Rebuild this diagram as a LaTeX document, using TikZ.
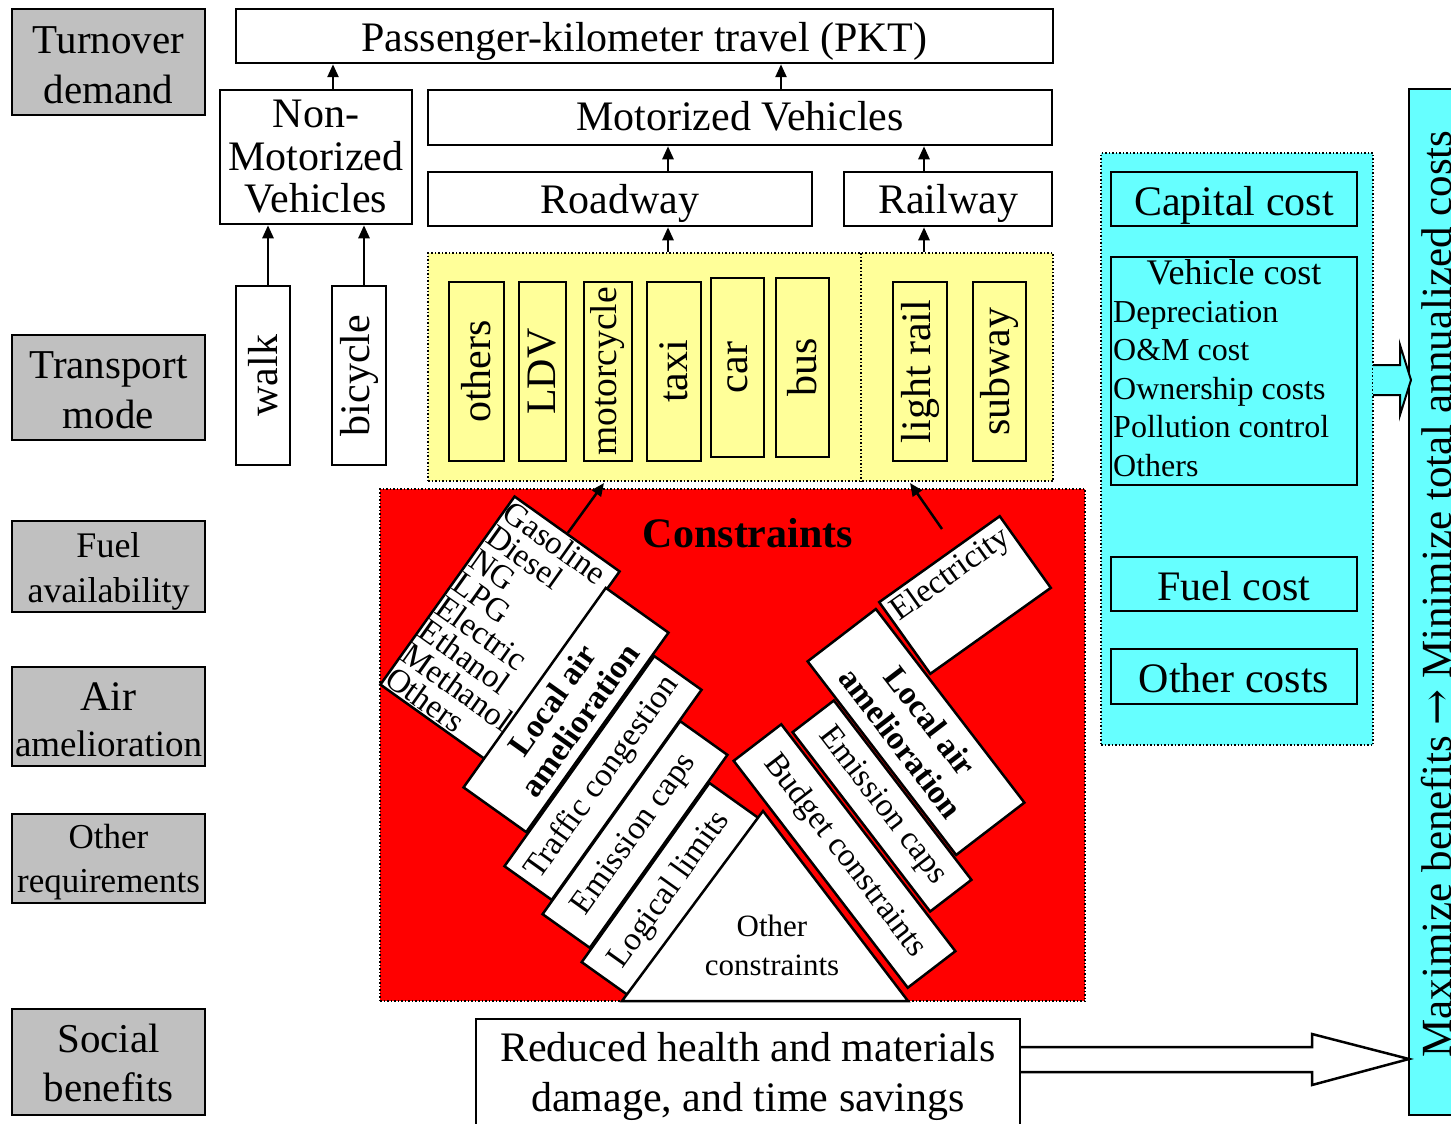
\documentclass[tikz,border=0pt]{standalone}
\usepackage{fontspec}
\setmainfont{Liberation Serif}
\newfontfamily\arrfont{DejaVu Serif}
\usetikzlibrary{arrows.meta,calc}
\definecolor{grayb}{HTML}{C0C0C0}
\definecolor{yelb}{HTML}{FFFF99}
\definecolor{cyanb}{HTML}{66FFFF}
\newcommand\fsz[2]{\fontsize{#1}{#2}\selectfont}
\begin{document}
\begin{tikzpicture}[x=1pt,y=-1pt,
  bx/.style={draw, line width=2.5pt, inner sep=0pt, align=center},
  tc/.style={text height=32pt, text depth=0pt},
  gbox/.style={bx, fill=grayb, minimum width=193pt},
  gtext/.style={align=center, inner sep=0pt},
  wbox/.style={bx, fill=white, font=\fsz{42}{42}},
  vertbox/.style={bx, line width=2pt, rotate=90, minimum width=179pt, font=\fsz{42}{42}},
  cyb/.style={bx, fill=cyanb, minimum width=246pt, font=\fsz{42}{42}},
  cbox/.style={bx, fill=white, font=\fsz{33}{35}},
  arr/.style={line width=2.5pt, -{Triangle[length=13pt,width=11pt]}},
  dotb/.style={draw=black, line width=1.5pt, dash pattern=on 1.5pt off 2pt, inner sep=0pt},
]
\useasboundingbox (0,0) rectangle (1451,1124);

% left gray labels
\node[gbox, minimum height=106pt] (turn) at (108.5,62) {};
\node[gtext, font=\fsz{41}{50}] (turnt) at ($(turn)+(0,3)$) {Turnover\\demand};
\node[gbox, minimum height=105pt] (tmode) at (108.5,387.5) {};
\node[gtext, font=\fsz{41}{50}] (tmodet) at ($(tmode)+(0,3)$) {Transport\\mode};
\node[gbox, minimum height=91pt] (fuelav) at (108.5,566.5) {};
\node[gtext, font=\fsz{36}{45}] (fuelavt) at ($(fuelav)+(0,5)$) {Fuel\\availability};
\node[gbox, minimum height=99pt] (airam) at (108.5,716.5) {};
\node[gtext, font=\fsz{37}{46}] (airamt) at ($(airam)+(0,3)$) {{\fsz{42}{46}Air}\\amelioration};
\node[gbox, minimum height=89pt] (othreq) at (108.5,858.5) {};
\node[gtext, font=\fsz{35}{44}] (othreqt) at ($(othreq)+(0,4)$) {Other\\requirements};
\node[gbox, minimum height=106pt] (socben) at (108.5,1062) {};
\node[gtext, font=\fsz{41}{49}] (socbent) at ($(socben)+(0,1)$) {Social\\benefits};

% top hierarchy
\node[wbox, tc, minimum width=817pt, minimum height=54pt] (pkt) at (644.5,36) {Passenger-kilometer travel (PKT)};
\node[wbox, minimum width=192pt, minimum height=134pt, font=\fsz{42}{42.5}] (nmv) at (316,157) {Non-\\Motorized\\Vehicles};
\node[wbox, tc, text height=26pt, minimum width=624pt, minimum height=55pt] (mv) at (740,117.5) {Motorized Vehicles};
\node[wbox, tc, text height=28pt, minimum width=384pt, minimum height=54pt] (road) at (620,199) {Roadway};
\node[wbox, tc, text height=28pt, minimum width=208pt, minimum height=54pt] (rail) at (948,199) {Railway};

% yellow region
\node[dotb, fill=yelb, minimum width=625pt, minimum height=228pt] (yreg) at (740.5,367) {};
\draw[dotb] (861,253) -- (861,481);

% vertical mode boxes
\node[vertbox, fill=white, minimum height=54pt] (walk) at (263,375.5) {walk};
\node[vertbox, fill=white, minimum height=54pt] (bike) at (359,375.5) {bicycle};
\node[vertbox, fill=yelb, minimum height=55pt] (oth) at (476.5,371.5) {others};
\node[vertbox, fill=yelb, minimum height=47pt] (ldv) at (542.5,371.5) {LDV};
\node[vertbox, fill=yelb, minimum height=48pt, font=\fsz{37.5}{38}] (moto) at (608,371.5) {motorcycle};
\node[vertbox, fill=yelb, minimum height=54pt] (taxi) at (674,371.5) {taxi};
\node[vertbox, fill=yelb, minimum height=53pt] (car) at (737.5,367.5) {car};
\node[vertbox, fill=yelb, minimum height=53pt] (bus) at (802.5,367.5) {bus};
\node[vertbox, fill=yelb, minimum height=54pt] (lrail) at (920,371.5) {light rail};
\node[vertbox, fill=yelb, minimum height=53pt] (subw) at (999.5,371.5) {subway};

% arrows in the hierarchy
\coordinate (wa) at ($(walk.east)+(5,0)$);
\draw[arr] (wa) -- (wa |- nmv.south);
\coordinate (ba) at ($(bike.east)+(5,0)$);
\draw[arr] (ba) -- (ba |- nmv.south);
\coordinate (na) at ($(nmv.north)+(17,0)$);
\draw[arr] (na) -- (na |- pkt.south);
\coordinate (ma) at ($(mv.north)+(41,0)$);
\draw[arr] (ma) -- (ma |- pkt.south);
\coordinate (ra) at ($(road.north)+(48,0)$);
\draw[arr] (ra) -- (ra |- mv.south);
\coordinate (la) at ($(rail.north)+(-24,0)$);
\draw[arr] (la) -- (la |- mv.south);
\draw[arr] (ra |- yreg.north) -- (ra |- road.south);
\draw[arr] (la |- yreg.north) -- (la |- rail.south);

% constraints region
\node[dotb, fill=red, minimum width=705pt, minimum height=512pt] (creg) at (732.5,745) {};
\node[font=\fsz{42}{42}\bfseries] (ctitle) at (748,533) {Constraints};

% left group
\node[cbox, rotate=-35.5, minimum width=129pt, minimum height=231pt, align=left, font=\fsz{33}{29}] (fuel) at (500,628)
  {Gasoline\\Diesel\\NG\\LPG\\Electric\\Ethanol\\Methanol\\Others};
\node[cbox, rotate=54.5, minimum width=245pt, minimum height=77pt, font=\fsz{33}{34}\bfseries] (laal) at (566,710) {Local air\\amelioration};
\node[cbox, rotate=54.5, minimum width=258pt, minimum height=58pt] (traf) at (603,778) {Traffic congestion};
\node[cbox, rotate=54.5, minimum width=237pt, minimum height=58pt] (emil) at (635,834.5) {Emission caps};
\node[cbox, rotate=54.5, minimum width=220pt, minimum height=60pt] (logi) at (670,890) {Logical limits};
\draw[line width=2.5pt, fill=white] (622,1001) -- (763,811) -- (908,1001) -- cycle;
\node[align=center, font=\fsz{31}{39}] (othc) at (772,945) {Other\\constraints};

% right group
\node[cbox, rotate=35.5, minimum width=148pt, minimum height=88pt] (elec) at (965,595) {};
\node[rotate=35.5, anchor=north, font=\fsz{33}{33}, inner sep=6pt] (elect) at (elec.north) {Electricity};
\node[cbox, rotate=-52.5, minimum width=244pt, minimum height=86pt, font=\fsz{33}{37}\bfseries] (laar) at (916,732) {Local air\\amelioration};
\node[cbox, rotate=-52.5, minimum width=226pt, minimum height=52pt] (emir) at (882,806) {Emission caps};
\node[cbox, rotate=-52.5, minimum width=286pt, minimum height=60pt] (budg) at (844.5,856) {Budget constraints};

% arrows from fuels to modes
\coordinate (ft) at (604,483);
\draw[arr] (fuel.north) -- (ft);
\coordinate (eb) at (942,529);
\coordinate (et) at (910,483);
\draw[arr] (eb) -- (et);

% cost region
\node[dotb, fill=cyanb, minimum width=272pt, minimum height=592pt] (costreg) at (1237,449) {};
\node[cyb, tc, minimum height=54pt] (capc) at (1234,199) {Capital cost};
\node[cyb, minimum height=228pt] (vehc) at (1234,371) {};
\node[anchor=base, font=\fsz{36}{36}, inner sep=0pt] (vct) at (1234,284) {Vehicle cost};
\foreach \t/\yy [count=\i] in {Depreciation/322, O\&M cost/360.5, Ownership costs/399, Pollution control/437.5, Others/476}
  \node[anchor=base west, font=\fsz{32}{32}, inner sep=0pt] (vc\i) at (1113,\yy) {\t};
\node[cyb, tc, minimum height=54pt] (fuelc) at (1234,584) {Fuel cost};
\node[cyb, tc, minimum height=55pt] (othc2) at (1234,676.5) {Other costs};

% objective bar
\node[bx, fill=cyanb, minimum width=70pt, minimum height=1026pt] (bar) at (1444,602) {};
\node[rotate=90, anchor=base, font=\fsz{43}{43}, inner sep=0pt] (bart) at (1451,594) {Maximize benefits {\arrfont →} Minimize total annualized costs};

% block arrow costs -> bar
\draw[line width=2pt, fill=cyanb] (1373,365) -- (1400,365) -- (1400,345) -- (1411,380) -- (1400,415) -- (1400,395) -- (1373,395);

% social benefits box and block arrow
\node[wbox, minimum width=544pt, minimum height=114pt, font=\fsz{42}{50}] (redu) at (748,1076) {Reduced health and materials\\damage, and time savings};
\draw[line width=2.5pt, fill=white] (1021,1047) -- (1312,1047) -- (1312,1034) -- (1409,1059) -- (1312,1085) -- (1312,1072) -- (1021,1072);
\end{tikzpicture}
\end{document}
